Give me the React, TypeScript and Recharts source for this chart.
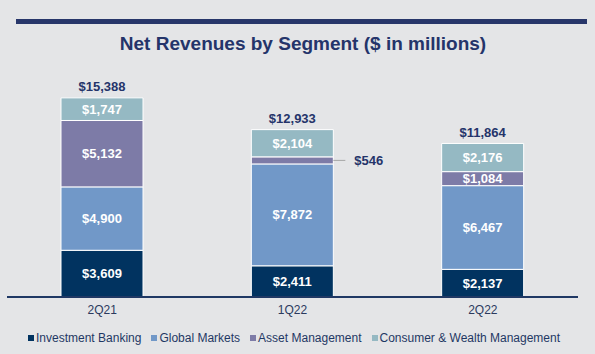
import React from 'react';
import { BarChart, Bar, XAxis, YAxis, LabelList } from 'recharts';

const categories = ['2Q21', '1Q22', '2Q22'];
const investmentBanking = [3609, 2411, 2137];
const globalMarkets = [4900, 7872, 6467];
const assetManagement = [5132, 546, 1084];
const consumerWealth = [1747, 2104, 2176];
const totals = [15388, 12933, 11864];

const seriesNames = ['Investment Banking', 'Global Markets', 'Asset Management', 'Consumer & Wealth Management'];
const seriesKeys = ['ib', 'gm', 'am', 'cwm'];
const colors = ['#013360', '#7198c8', '#7d7ba7', '#95b9c3'];

const data = categories.map((c, i) => ({
  cat: c,
  ib: investmentBanking[i],
  gm: globalMarkets[i],
  am: assetManagement[i],
  cwm: consumerWealth[i],
}));

const FONT = '"Liberation Sans", Arial, sans-serif';
const NAVY = '#24346a';
const fmt = (v: number) => '$' + v.toLocaleString('en-US');

const insideLabel = (props: any) => {
  const { x, y, width, height, value } = props;
  const cx = Number(x) + Number(width) / 2;
  const cy = Number(y) + Number(height) / 2;
  if (Number(value) < 800) {
    const rx = Number(x) + Number(width);
    return (
      <g>
        <line x1={rx} y1={cy} x2={rx + 12} y2={cy} stroke="#a6a6a6" strokeWidth={1} />
        <text x={rx + 21} y={cy} dy="0.35em" fill={NAVY} fontSize={13} fontWeight="bold" fontFamily={FONT}>
          {fmt(Number(value))}
        </text>
      </g>
    );
  }
  return (
    <text x={cx} y={cy} dy="0.35em" textAnchor="middle" fill="#ffffff" fontSize={13} fontWeight="bold" fontFamily={FONT}>
      {fmt(Number(value))}
    </text>
  );
};

const totalLabel = (props: any) => {
  const { x, y, width, index } = props;
  const cx = Number(x) + Number(width) / 2;
  return (
    <text x={cx} y={Number(y) - 11.5} dy="0.35em" textAnchor="middle" fill={NAVY} fontSize={13} fontWeight="bold" fontFamily={FONT}>
      {fmt(totals[index])}
    </text>
  );
};

export default function App() {
  return (
    <div style={{ position: 'absolute', left: 0, top: 0, width: 595, height: 354, background: '#e4e5e7', fontFamily: FONT, overflow: 'hidden' }}>
      <div style={{ position: 'absolute', left: 16, top: 19, width: 571, height: 5, background: '#27366a' }} />
      <div style={{ position: 'absolute', left: 0, width: 606, top: 33, textAlign: 'center', fontSize: 19, fontWeight: 'bold', color: NAVY, lineHeight: '22px' }}>
        Net Revenues by Segment ($ in millions)
      </div>
      <div style={{ position: 'absolute', left: 0, top: 0 }}>
        <BarChart width={595} height={354} data={data} margin={{ top: 77, right: 17, left: 7, bottom: 27 }} barSize={82}>
          <XAxis
            dataKey="cat"
            axisLine={{ stroke: '#1f3864', strokeWidth: 2 }}
            tickLine={false}
            tick={{ fontSize: 12, fill: '#2b3a5e', fontFamily: FONT }}
          />
          <YAxis hide domain={[0, 17000]} />
          {seriesKeys.map((k, i) => (
            <Bar key={k} dataKey={k} stackId="a" fill={colors[i]} stroke="#ffffff" strokeWidth={1} isAnimationActive={false}>
              <LabelList dataKey={k} content={insideLabel} />
              {k === 'cwm' ? <LabelList dataKey={k} content={totalLabel} /> : null}
            </Bar>
          ))}
        </BarChart>
      </div>
      <div style={{ position: 'absolute', left: 28, top: 330, display: 'flex', alignItems: 'center', fontSize: 12, color: '#1f3864', lineHeight: '16px', whiteSpace: 'nowrap' }}>
        {seriesNames.map((n, i) => (
          <div key={n} style={{ display: 'flex', alignItems: 'center', marginRight: 10 }}>
            <span style={{ display: 'inline-block', width: 6, height: 6, background: colors[i], marginRight: 2 }} />
            <span>{n}</span>
          </div>
        ))}
      </div>
    </div>
  );
}
